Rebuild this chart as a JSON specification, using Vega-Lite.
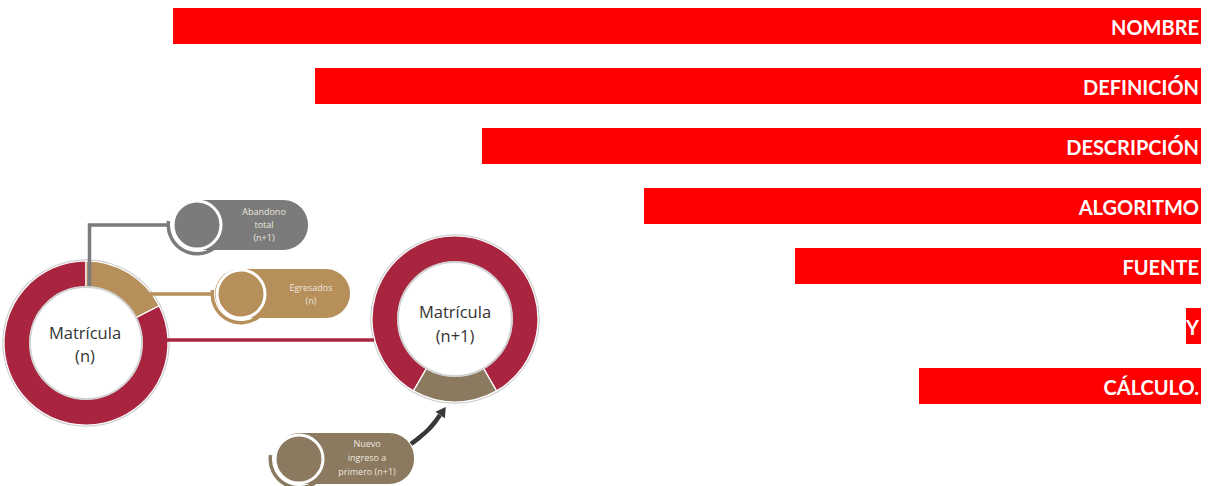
{
  "$schema": "https://vega.github.io/schema/vega-lite/v6.json",
  "width": 1211,
  "height": 486,
  "autosize": {"type": "none"},
  "padding": 0,
  "background": "white",
  "config": {"view": {"stroke": null}},
  "datasets": {
    "barras": [
      {"rubro": "NOMBRE", "x0": 173, "x1": 1201, "y0": 8, "y1": 44},
      {"rubro": "DEFINICIÓN", "x0": 315, "x1": 1201, "y0": 68, "y1": 104},
      {"rubro": "DESCRIPCIÓN", "x0": 482, "x1": 1201, "y0": 128, "y1": 164},
      {"rubro": "ALGORITMO", "x0": 644, "x1": 1201, "y0": 188, "y1": 224},
      {"rubro": "FUENTE", "x0": 795, "x1": 1201, "y0": 248, "y1": 284},
      {"rubro": "Y", "x0": 1186, "x1": 1201, "y0": 308, "y1": 344},
      {"rubro": "CÁLCULO.", "x0": 919, "x1": 1201, "y0": 368, "y1": 404}
    ],
    "segmentos": [
      {"grafico": "Matrícula (n)", "categoria": "Matrícula", "cx": 86, "cy": 343, "rin": 56, "rout": 82, "a0": 63, "a1": 360},
      {"grafico": "Matrícula (n)", "categoria": "Egresados", "cx": 86, "cy": 343, "rin": 56, "rout": 82, "a0": 0, "a1": 63},
      {"grafico": "Matrícula (n+1)", "categoria": "Matrícula", "cx": 455, "cy": 319, "rin": 57, "rout": 83, "a0": 210, "a1": 510},
      {"grafico": "Matrícula (n+1)", "categoria": "Nuevo ingreso", "cx": 455, "cy": 319, "rin": 57, "rout": 83, "a0": 150, "a1": 210}
    ],
    "centros": [
      {"grafico": "Matrícula (n)", "cx": 86, "cy": 343, "rin": 56},
      {"grafico": "Matrícula (n+1)", "cx": 455, "cy": 319, "rin": 57}
    ],
    "conectores": [
      {"tramo": "abandono", "categoria": "Abandono total", "orden": 1, "x": 89.5, "y": 287},
      {"tramo": "abandono", "categoria": "Abandono total", "orden": 2, "x": 89.5, "y": 225},
      {"tramo": "abandono", "categoria": "Abandono total", "orden": 3, "x": 170, "y": 225},
      {"tramo": "egresados", "categoria": "Egresados", "orden": 1, "x": 150, "y": 294},
      {"tramo": "egresados", "categoria": "Egresados", "orden": 2, "x": 214, "y": 294},
      {"tramo": "matricula", "categoria": "Matrícula", "orden": 1, "x": 166, "y": 340},
      {"tramo": "matricula", "categoria": "Matrícula", "orden": 2, "x": 374, "y": 340}
    ],
    "pildoras": [
      {"categoria": "Abandono total", "x0": 172, "x1": 308, "y0": 200, "y1": 250, "cx": 197, "cy": 225, "r": 24, "rAroInt": 27, "rAroExt": 30.5},
      {"categoria": "Egresados", "x0": 215, "x1": 350, "y0": 269, "y1": 318, "cx": 241, "cy": 294, "r": 24, "rAroInt": 27, "rAroExt": 30.5},
      {"categoria": "Nuevo ingreso", "x0": 275, "x1": 414, "y0": 433, "y1": 484, "cx": 299, "cy": 459, "r": 24, "rAroInt": 27, "rAroExt": 30.5}
    ],
    "rotulos": [
      {"tipo": "centro", "texto": "Matrícula", "x": 85, "y": 334},
      {"tipo": "centro", "texto": "(n)", "x": 85, "y": 357},
      {"tipo": "centro", "texto": "Matrícula", "x": 455, "y": 313},
      {"tipo": "centro", "texto": "(n+1)", "x": 455, "y": 337},
      {"tipo": "pildora", "texto": "Abandono", "x": 264, "y": 212},
      {"tipo": "pildora", "texto": "total", "x": 264, "y": 225},
      {"tipo": "pildora", "texto": "(n+1)", "x": 264, "y": 238},
      {"tipo": "pildora", "texto": "Egresados", "x": 311, "y": 288},
      {"tipo": "pildora", "texto": "(n)", "x": 311, "y": 301},
      {"tipo": "pildora", "texto": "Nuevo", "x": 367, "y": 444},
      {"tipo": "pildora", "texto": "ingreso a", "x": 367, "y": 458},
      {"tipo": "pildora", "texto": "primero (n+1)", "x": 367, "y": 472}
    ],
    "flecha": [
      {"orden": 1, "x": 411, "y": 444},
      {"orden": 2, "x": 420, "y": 437},
      {"orden": 3, "x": 428, "y": 430},
      {"orden": 4, "x": 435, "y": 422},
      {"orden": 5, "x": 440, "y": 415}
    ],
    "punta": [
      {"x": 443, "y": 411}
    ]
  },
  "layer": [
    {
      "data": {"name": "barras"},
      "mark": {"type": "rect", "color": "#FF0000"},
      "encoding": {
        "x": {"field": "x0", "type": "quantitative", "scale": {"domain": [0, 1211], "range": [0, 1211], "nice": false, "zero": false}, "axis": null},
        "x2": {"field": "x1"},
        "y": {"field": "y0", "type": "quantitative", "scale": {"domain": [0, 486], "range": [0, 486], "nice": false, "zero": false}, "axis": null},
        "y2": {"field": "y1"}
      }
    },
    {
      "data": {"name": "barras"},
      "mark": {"type": "text", "color": "white", "font": "Lato", "fontWeight": "bold", "fontSize": 20, "align": "right", "baseline": "alphabetic", "dx": -2, "dy": -9},
      "encoding": {
        "x": {"field": "x1", "type": "quantitative", "axis": null},
        "y": {"field": "y1", "type": "quantitative", "axis": null},
        "text": {"field": "rubro"}
      }
    },
    {
      "data": {"name": "segmentos"},
      "mark": {"type": "arc", "stroke": "#cfcfcf", "strokeWidth": 3.5},
      "encoding": {
        "x": {"field": "cx", "type": "quantitative", "axis": null},
        "y": {"field": "cy", "type": "quantitative", "axis": null},
        "theta": {"field": "a0", "type": "quantitative", "stack": null, "scale": {"domain": [0, 360], "range": [0, 6.283185307179586]}},
        "theta2": {"field": "a1"},
        "radius": {"field": "rout", "type": "quantitative", "stack": null, "scale": {"type": "linear", "domain": [0, 100], "range": [0, 100], "zero": true, "nice": false}},
        "radius2": {"field": "rin"},
        "color": {"field": "categoria", "type": "nominal", "legend": null, "scale": {"domain": ["Matrícula", "Egresados", "Abandono total", "Nuevo ingreso"], "range": ["#A8243F", "#B68F5A", "#7B7B7B", "#8B7A5F"]}}
      }
    },
    {
      "data": {"name": "segmentos"},
      "mark": {"type": "arc", "stroke": "white", "strokeWidth": 1.2},
      "encoding": {
        "x": {"field": "cx", "type": "quantitative", "axis": null},
        "y": {"field": "cy", "type": "quantitative", "axis": null},
        "theta": {"field": "a0", "type": "quantitative", "stack": null},
        "theta2": {"field": "a1"},
        "radius": {"field": "rout", "type": "quantitative", "stack": null},
        "radius2": {"field": "rin"},
        "color": {"field": "categoria", "type": "nominal", "legend": null}
      }
    },
    {
      "data": {"name": "conectores"},
      "mark": {"type": "line", "strokeWidth": 3.5, "strokeCap": "butt", "strokeJoin": "miter"},
      "encoding": {
        "x": {"field": "x", "type": "quantitative", "axis": null},
        "y": {"field": "y", "type": "quantitative", "axis": null},
        "order": {"field": "orden"},
        "detail": {"field": "tramo"},
        "color": {"field": "categoria", "type": "nominal", "legend": null}
      }
    },
    {
      "data": {"name": "centros"},
      "mark": {"type": "arc", "fill": "white", "stroke": "#d2d2d2", "strokeWidth": 2, "theta": 0, "theta2": 6.283185307179586},
      "encoding": {
        "x": {"field": "cx", "type": "quantitative", "axis": null},
        "y": {"field": "cy", "type": "quantitative", "axis": null},
        "radius": {"field": "rin", "type": "quantitative", "stack": null}
      }
    },
    {
      "data": {"name": "rotulos"},
      "transform": [{"filter": "datum.tipo === 'centro'"}],
      "mark": {"type": "text", "font": "Open Sans", "fontSize": 16.5, "color": "#333333", "align": "center", "baseline": "middle"},
      "encoding": {
        "x": {"field": "x", "type": "quantitative", "axis": null},
        "y": {"field": "y", "type": "quantitative", "axis": null},
        "text": {"field": "texto"}
      }
    },
    {
      "data": {"name": "pildoras"},
      "mark": {"type": "arc", "theta": 2.5, "theta2": 4.85},
      "encoding": {
        "x": {"field": "cx", "type": "quantitative", "axis": null},
        "y": {"field": "cy", "type": "quantitative", "axis": null},
        "radius": {"field": "rAroExt", "type": "quantitative", "stack": null},
        "radius2": {"field": "rAroInt"},
        "color": {"field": "categoria", "type": "nominal", "legend": null}
      }
    },
    {
      "data": {"name": "pildoras"},
      "mark": {"type": "rect", "cornerRadius": 25},
      "encoding": {
        "x": {"field": "x0", "type": "quantitative", "axis": null},
        "x2": {"field": "x1"},
        "y": {"field": "y0", "type": "quantitative", "axis": null},
        "y2": {"field": "y1"},
        "color": {"field": "categoria", "type": "nominal", "legend": null}
      }
    },
    {
      "data": {"name": "pildoras"},
      "mark": {"type": "arc", "theta": 0, "theta2": 6.283185307179586, "stroke": "white", "strokeWidth": 3},
      "encoding": {
        "x": {"field": "cx", "type": "quantitative", "axis": null},
        "y": {"field": "cy", "type": "quantitative", "axis": null},
        "radius": {"field": "r", "type": "quantitative", "stack": null},
        "color": {"field": "categoria", "type": "nominal", "legend": null}
      }
    },
    {
      "data": {"name": "rotulos"},
      "transform": [{"filter": "datum.tipo === 'pildora'"}],
      "mark": {"type": "text", "font": "Open Sans", "fontSize": 9, "color": "#ece6df", "align": "center", "baseline": "middle"},
      "encoding": {
        "x": {"field": "x", "type": "quantitative", "axis": null},
        "y": {"field": "y", "type": "quantitative", "axis": null},
        "text": {"field": "texto"}
      }
    },
    {
      "data": {"name": "flecha"},
      "mark": {"type": "line", "color": "#383838", "strokeWidth": 4.5, "interpolate": "monotone", "strokeCap": "butt"},
      "encoding": {
        "x": {"field": "x", "type": "quantitative", "axis": null},
        "y": {"field": "y", "type": "quantitative", "axis": null},
        "order": {"field": "orden"}
      }
    },
    {
      "data": {"name": "punta"},
      "mark": {"type": "point", "shape": "triangle-up", "filled": true, "color": "#383838", "size": 130, "angle": 35, "opacity": 1},
      "encoding": {
        "x": {"field": "x", "type": "quantitative", "axis": null},
        "y": {"field": "y", "type": "quantitative", "axis": null}
      }
    }
  ]
}
